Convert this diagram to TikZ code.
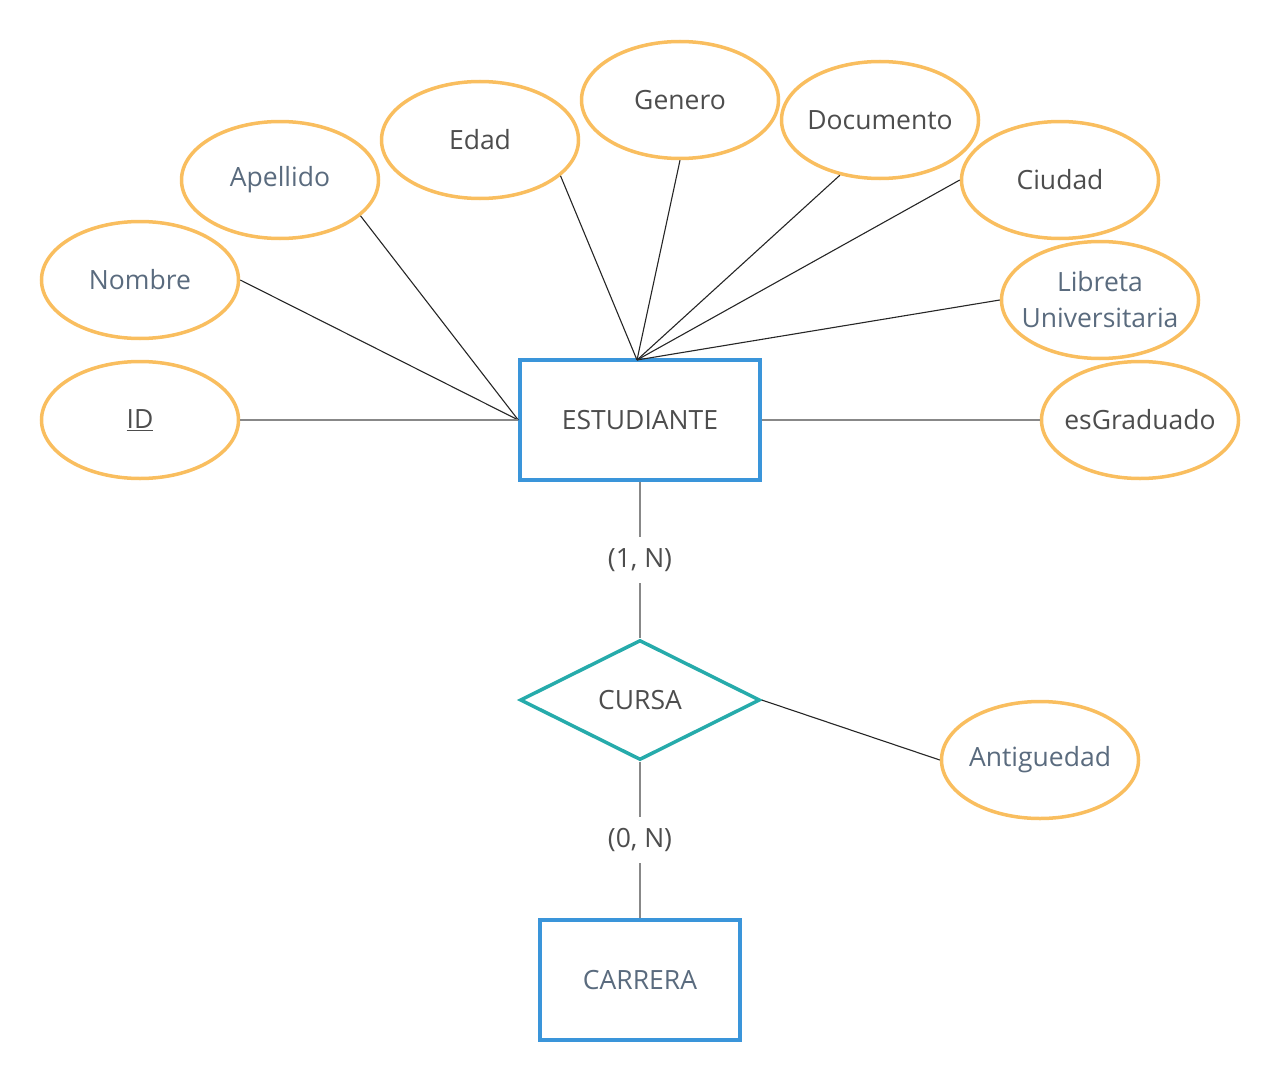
\documentclass[tikz,border=0pt]{standalone}
\usepackage{fontspec}
\setmainfont{Open Sans}
\usepackage{tikz}
\usetikzlibrary{shapes,positioning}
\definecolor{attrcol}{HTML}{F9BE5F}
\definecolor{entcol}{HTML}{3A95DA}
\definecolor{relcol}{HTML}{26ABAB}
\definecolor{darktext}{HTML}{4D4D4D}
\definecolor{slatetext}{HTML}{5A6B7E}
\definecolor{linkgray}{HTML}{888888}
\tikzstyle{attr node}=[ellipse, draw=attrcol, line width=3.5pt, minimum width=197pt, minimum height=117pt, inner xsep=-22pt, inner ysep=0pt, text=darktext]
\tikzstyle{entity node}=[rectangle, draw=entcol, line width=3.5pt, minimum width=240pt, minimum height=120pt, text=darktext]
\tikzstyle{rel node}=[diamond, draw=relcol, line width=3.5pt, minimum width=240pt, minimum height=120pt, inner sep=0pt, text=darktext]
\tikzstyle{card node}=[fill=white, inner xsep=4pt, inner ysep=11pt, text=darktext]
\tikzstyle{thin link}=[draw=black!85, line width=1.1pt]
\tikzstyle{gray link}=[draw=linkgray, line width=2.2pt]

\begin{document}
\begin{tikzpicture}[x=1pt, y=-1pt, font=\fontsize{26.5}{36}\selectfont]
  \useasboundingbox (0,0) rectangle (1280,1081);
%
  \node[entity node] (est) at (640,420) {ESTUDIANTE};
  \node[rel node] (cursa) at (640,700) {CURSA};
  \node[entity node, minimum width=200pt, text=slatetext] (carrera) at (640,980) {CARRERA};
%
  \node[attr node] (id) at (140,420) {\underline{ID}};
  \node[attr node, text=slatetext] (nombre) at (140,280) {Nombre};
  \node[attr node, text=slatetext] (apellido) at (280,180) {Apellido};
  \node[attr node] (edad) at (480,140) {Edad};
  \node[attr node] (genero) at (680,100) {Genero};
  \node[attr node] (documento) at (880,120) {Documento};
  \node[attr node] (ciudad) at (1060,180) {Ciudad};
  \node[attr node, text=slatetext, align=center] (libreta) at (1100,300) {Libreta\\Universitaria};
  \node[attr node] (esgrad) at (1140,420) {esGraduado};
  \node[attr node, text=slatetext] (antig) at (1040,760) {Antiguedad};
%
  \coordinate (hub) at (637,360);
  \path[thin link]
	(nombre.east) edge (est.west)
	(apellido.-24) edge (est.west)
	(edad.-24) edge (hub)
	(genero.south) edge (hub)
	(documento.-126) edge (hub)
	(ciudad.west) edge (hub)
	(libreta.west) edge (hub)
	(cursa.east) edge (antig.west);
  \path[gray link]
	(id.east) edge (est.west)
	(esgrad.west) edge (est.east);
%
  \draw[gray link] (est.south) -- node[card node] {(1, N)} (cursa.north);
  \draw[gray link] (cursa.south) -- node[card node] {(0, N)} (carrera.north);
%
\end{tikzpicture}
\end{document}
